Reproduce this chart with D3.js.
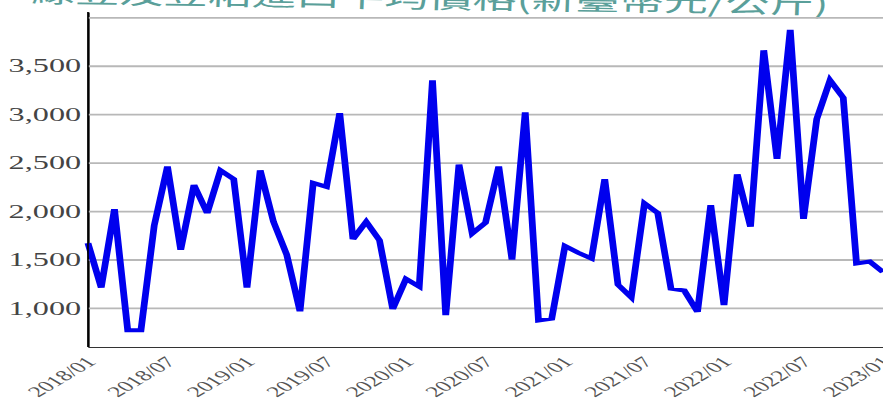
<!DOCTYPE html>
<html>
<head>
<meta charset="utf-8">
<script src="https://cdn.jsdelivr.net/npm/d3@7"></script>
<style>
  html, body { margin: 0; padding: 0; background: #fff; overflow: hidden; }
  svg { display: block; }
</style>
</head>
<body>
<svg id="chart"></svg>
<script>
// ---- data ----
const title = "綠豆及豆粕進口平均價格(新臺幣元/公斤)";
const months = d3.timeMonth.range(new Date(2018, 0, 1), new Date(2023, 1, 1)).map(d3.timeFormat("%Y/%m"));
const values = [
  1670, 1210, 2020, 770, 770, 1850, 2460, 1600, 2270, 1980,
  2420, 2330, 1210, 2420, 1890, 1550, 965, 2290, 2250, 3010,
  1710, 1890, 1700, 990, 1300, 1220, 3350, 925, 2480, 1770,
  1880, 2460, 1500, 3020, 870, 890, 1640, 1570, 1510, 2330,
  1240, 1110, 2080, 1980, 1200, 1180, 960, 2060, 1030, 2380,
  1840, 3660, 2540, 3870, 1920, 2950, 3350, 3170, 1460, 1480,
  1370
];
const xTickLabels = ["2018/01","2018/07","2019/01","2019/07","2020/01","2020/07","2021/01","2021/07","2022/01","2022/07","2023/01"];
const yTickValues = [1000, 1500, 2000, 2500, 3000, 3500, 4000];
const yLabelled = [1000, 1500, 2000, 2500, 3000, 3500];

// ---- layout (drawn in a horizontally stretched coordinate system) ----
const W = 883, H = 399, VBW = 520;
const svg = d3.select("#chart")
  .attr("width", W).attr("height", H)
  .attr("viewBox", `0 0 ${VBW} ${H}`)
  .attr("preserveAspectRatio", "none");

const mLeft = 51.8, mRight = 520, mTop = 12, mBottom = 347;

const x = d3.scaleLinear().domain([0, months.length - 1]).range([mLeft, mRight]);
const y = d3.scaleLinear().domain([597, 4055]).range([mBottom, mTop]);

// title
svg.append("text")
  .attr("x", 253).attr("y", 8)
  .attr("text-anchor", "middle")
  .attr("transform", "rotate(1.4,253,8)")
  .attr("font-family", "'Noto Sans CJK TC', 'Noto Sans CJK SC', sans-serif")
  .attr("font-size", 26)
  .attr("fill", "#5a9f9a")
  .text(title);

// y axis + gridlines
const yAxis = d3.axisLeft(y)
  .tickValues(yTickValues)
  .tickSize(-(mRight - mLeft) - 10)
  .tickSizeOuter(0)
  .tickPadding(4)
  .tickFormat(v => yLabelled.includes(v) ? d3.format(",")(v) : "");
const gy = svg.append("g").attr("transform", `translate(${mLeft},0)`).call(yAxis);
gy.select(".domain").attr("stroke", "#000").attr("stroke-width", 1);
gy.selectAll(".tick line").attr("stroke", "#b8b8b8").attr("stroke-width", 1.8);
gy.selectAll(".tick text")
  .attr("font-family", "'Liberation Serif', serif")
  .attr("font-size", 19)
  .attr("fill", "#444");

// x axis
const xIdx = xTickLabels.map(l => months.indexOf(l));
const xAxis = d3.axisBottom(x)
  .tickValues(xIdx)
  .tickSize(0)
  .tickSizeOuter(0)
  .tickFormat(i => months[i]);
const gx = svg.append("g").attr("transform", `translate(0,${mBottom})`).call(xAxis);
gx.select(".domain").attr("stroke", "#333").attr("stroke-width", 1.2);
gx.selectAll(".tick text")
  .attr("font-family", "'Liberation Serif', serif")
  .attr("font-size", 15)
  .attr("fill", "#555")
  .attr("text-anchor", "end")
  .attr("dy", 0)
  .attr("y", 0)
  .attr("transform", "translate(5,16) rotate(-45)");

// line
const line = d3.line().x((d, i) => x(i)).y(d => y(d));
svg.append("path")
  .datum(values)
  .attr("fill", "none")
  .attr("stroke", "#0000ee")
  .attr("stroke-width", 4)
  .attr("stroke-linejoin", "miter")
  .attr("d", line);

// left axis on top
svg.append("line")
  .attr("x1", mLeft).attr("x2", mLeft).attr("y1", mTop).attr("y2", mBottom)
  .attr("stroke", "#000").attr("stroke-width", 1);
</script>
</body>
</html>
